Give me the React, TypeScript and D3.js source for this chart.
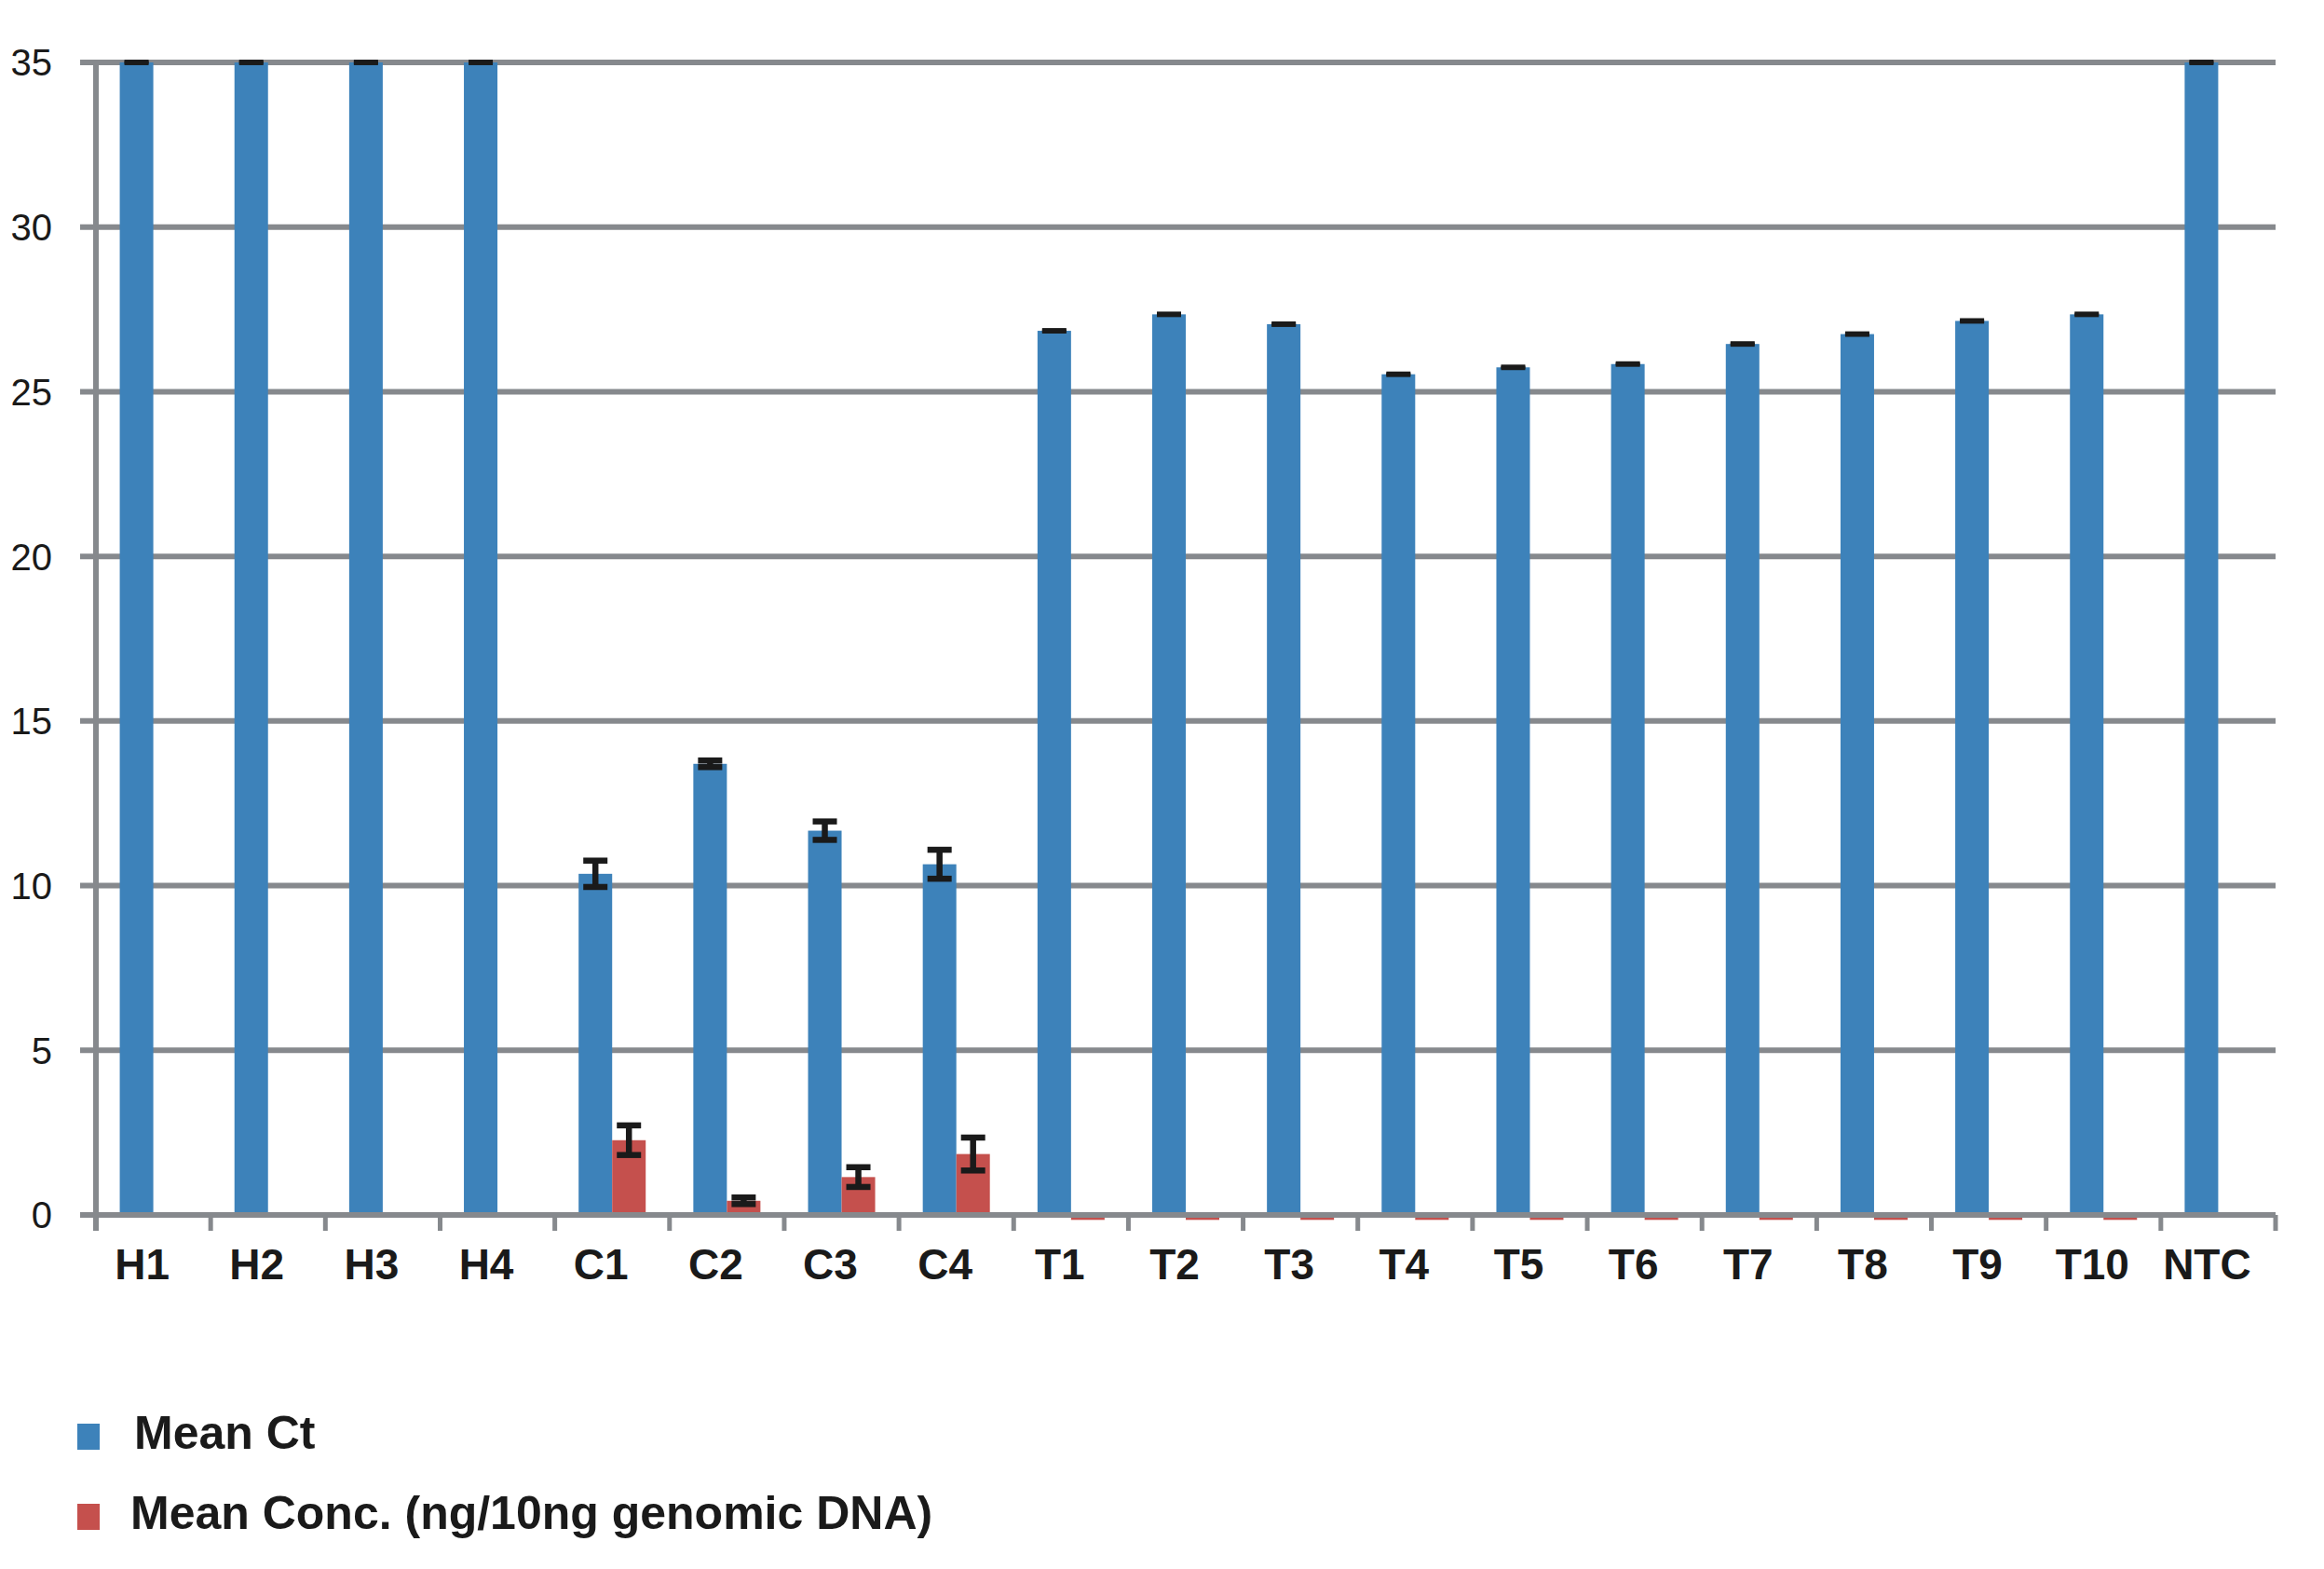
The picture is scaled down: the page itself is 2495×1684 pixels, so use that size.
import React from 'react';
import * as d3 from 'd3';

// sample labels along the x axis
const samples = ['H1', 'H2', 'H3', 'H4', 'C1', 'C2', 'C3', 'C4', 'T1', 'T2', 'T3', 'T4', 'T5', 'T6', 'T7', 'T8', 'T9', 'T10', 'NTC'];

// Mean Ct and its error
const meanCt = [35, 35, 35, 35, 10.36, 13.7, 11.67, 10.65, 26.85, 27.35, 27.05, 25.53, 25.74, 25.84, 26.45, 26.75, 27.15, 27.35, 35];
const ctErr = [0.02, 0.02, 0.02, 0.02, 0.4, 0.1, 0.28, 0.44, 0.02, 0.02, 0.02, 0.02, 0.02, 0.02, 0.02, 0.02, 0.02, 0.02, 0.02];

// Mean concentration (ng/10ng genomic DNA) and its error
const meanConc = [0, 0, 0, 0, 2.27, 0.43, 1.15, 1.85, -0.15, -0.15, -0.15, -0.15, -0.15, -0.15, -0.15, -0.15, -0.15, -0.15, 0];
const concErr = [0, 0, 0, 0, 0.45, 0.1, 0.3, 0.5, 0, 0, 0, 0, 0, 0, 0, 0, 0, 0, 0];

const yTicks = [0, 5, 10, 15, 20, 25, 30, 35];
const seriesNames = ['Mean Ct', 'Mean Conc. (ng/10ng genomic DNA)'];

const width = 2495;
const height = 1684;
const BLUE = '#3d82ba';
const RED = '#c5504d';
const GRID = '#86898d';
const INK = '#1a1a1a';

const App: React.FC = () => {
  const x = d3.scaleBand<string>().domain(samples).range([103, 2443]).paddingInner(0).paddingOuter(0);
  const sub = d3.scaleBand<string>().domain(['ct', 'conc']).range([0, x.bandwidth()]).paddingInner(0).paddingOuter(0.71);
  const y = d3.scaleLinear().domain([0, 35]).range([1304, 67]);
  const capW = 26;

  const errorBar = (cx: number, v: number, e: number, key: string, big: boolean) => {
    if (e <= 0) return null;
    const y1 = y(v + e);
    const y2 = y(v - e);
    const sw = big ? 6.5 : 4.5;
    return (
      <g key={key} stroke={INK} strokeWidth={sw}>
        <line x1={cx} x2={cx} y1={y1} y2={y2} />
        <line x1={cx - capW / 2} x2={cx + capW / 2} y1={y1} y2={y1} />
        <line x1={cx - capW / 2} x2={cx + capW / 2} y1={y2} y2={y2} />
      </g>
    );
  };

  const tickXs = samples.map((s) => x(s) as number).concat([x.range()[1]]);

  return (
    <svg width={width} height={height} style={{ position: 'absolute', left: 0, top: 0, background: '#fff' }}>
      {/* gridlines */}
      {yTicks.filter((t) => t > 0).map((t) => (
        <line key={t} x1={86} x2={2443} y1={y(t)} y2={y(t)} stroke={GRID} strokeWidth={6} />
      ))}

      {/* bars */}
      {samples.map((s, i) => {
        const x0 = x(s) as number;
        const bx = x0 + (sub('ct') as number);
        const rx = x0 + (sub('conc') as number);
        const c = meanConc[i];
        return (
          <g key={s}>
            <rect x={bx} y={y(meanCt[i])} width={sub.bandwidth()} height={y(0) - y(meanCt[i])} fill={BLUE} />
            {c !== 0 && (
              <rect x={rx} y={y(Math.max(c, 0))} width={sub.bandwidth()} height={Math.abs(y(c) - y(0))} fill={RED} />
            )}
          </g>
        );
      })}

      {/* x axis */}
      <line x1={86} x2={2443} y1={y(0)} y2={y(0)} stroke={GRID} strokeWidth={6} />
      {tickXs.map((tx, i) => (
        <line key={'xt' + i} x1={tx} x2={tx} y1={y(0)} y2={y(0) + 17} stroke={GRID} strokeWidth={5} />
      ))}
      <line x1={103} x2={103} y1={y(35) - 3} y2={y(0) + 17} stroke={GRID} strokeWidth={6} />

      {/* error bars */}
      {samples.map((s, i) => {
        const x0 = x(s) as number;
        const bc = x0 + (sub('ct') as number) + sub.bandwidth() / 2;
        const rc = x0 + (sub('conc') as number) + sub.bandwidth() / 2;
        return (
          <g key={'e' + s}>
            {errorBar(bc, meanCt[i], ctErr[i], 'ec' + s, ctErr[i] >= 0.1)}
            {errorBar(rc, meanConc[i], concErr[i], 'er' + s, concErr[i] >= 0.1)}
          </g>
        );
      })}

      {/* y tick labels */}
      {yTicks.map((t) => (
        <text key={'yl' + t} x={56} y={y(t)} dy="0.36em" textAnchor="end" fontFamily="'Liberation Sans', Arial, sans-serif" fontSize={40} fill={INK}>
          {t}
        </text>
      ))}

      {/* x labels */}
      {samples.map((s) => (
        <text key={'xl' + s} x={(x(s) as number) + x.bandwidth() / 2 - 12} y={1373} textAnchor="middle" fontFamily="'Liberation Sans', Arial, sans-serif" fontWeight="bold" fontSize={46} fill={INK}>
          {s}
        </text>
      ))}

      {/* legend */}
      {seriesNames.map((name, i) => (
        <g key={name} transform={`translate(83, ${1528 + i * 86})`}>
          <rect x={0} y={0} width={24} height={28} fill={i === 0 ? BLUE : RED} />
          <text x={i === 0 ? 61 : 57} y={27} fontFamily="'Liberation Sans', Arial, sans-serif" fontWeight="bold" fontSize={50} fill={INK}>
            {name}
          </text>
        </g>
      ))}
    </svg>
  );
};

export default App;
